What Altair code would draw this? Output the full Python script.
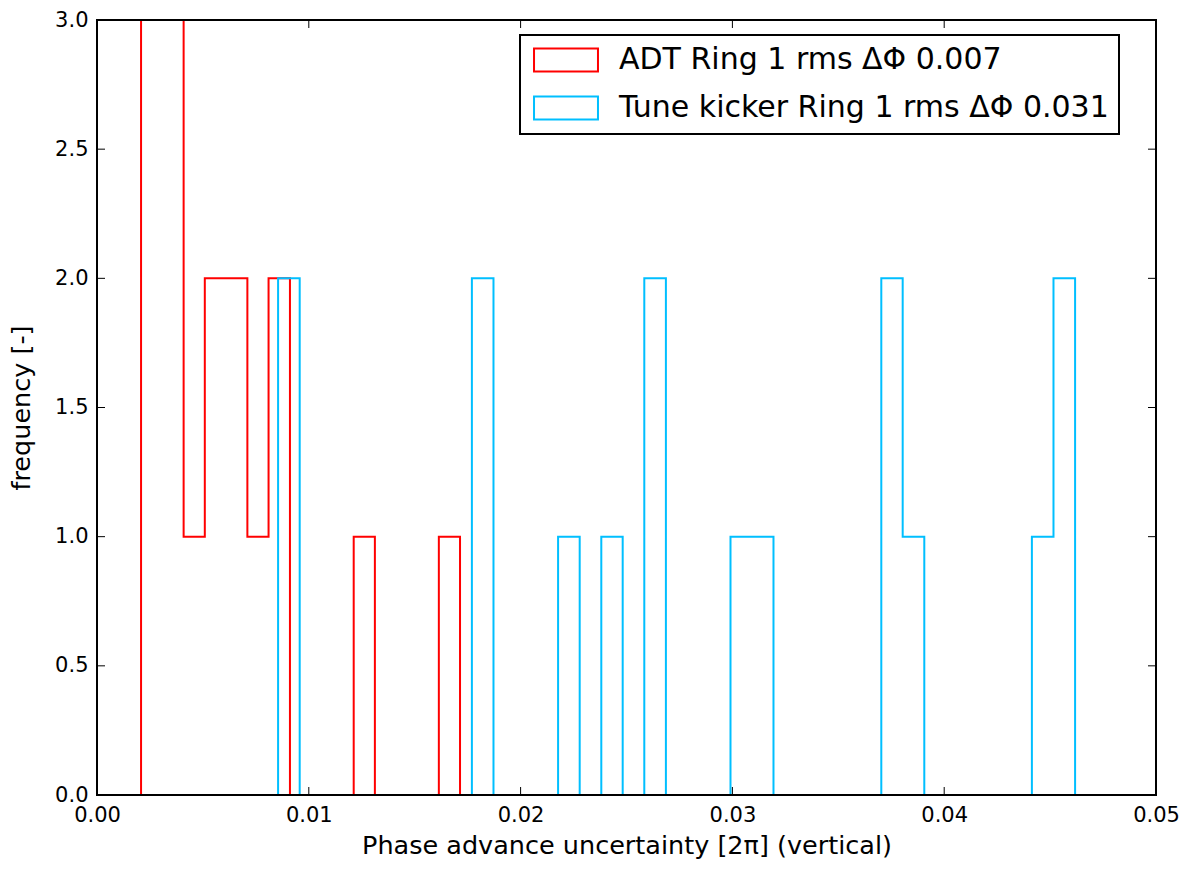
import altair as alt
import pandas as pd

# Bin edges and counts of the two phase-advance-uncertainty histograms
adt_label = "ADT Ring 1 rms ΔΦ 0.007"
adt_edges = [0.00208, 0.00308, 0.00409, 0.00509, 0.00610, 0.00710, 0.00810, 0.00911,
             0.01011, 0.01112, 0.01212, 0.01312, 0.01413, 0.01513, 0.01614, 0.01714]
adt_counts = [3, 3, 1, 2, 2, 1, 2, 0, 0, 0, 1, 0, 0, 0, 1]

kick_label = "Tune kicker Ring 1 rms ΔΦ 0.031"
kick_edges = [0.00855, 0.00957, 0.01058, 0.01160, 0.01262, 0.01364, 0.01465, 0.01567,
              0.01669, 0.01770, 0.01872, 0.01974, 0.02075, 0.02177, 0.02279, 0.02381,
              0.02482, 0.02584, 0.02686, 0.02787, 0.02889, 0.02991, 0.03092, 0.03194,
              0.03296, 0.03398, 0.03499, 0.03601, 0.03703, 0.03804, 0.03906, 0.04008,
              0.04109, 0.04211, 0.04313, 0.04414, 0.04516, 0.04618]
kick_counts = [2, 0, 0, 0, 0, 0, 0, 0, 0, 2, 0, 0, 0, 1, 0, 1, 0, 2, 0, 0, 0,
               1, 1, 0, 0, 0, 0, 0, 2, 1, 0, 0, 0, 0, 0, 1, 2]

x_ticks = [0.0, 0.01, 0.02, 0.03, 0.04, 0.05]
y_ticks = [0.0, 0.5, 1.0, 1.5, 2.0, 2.5, 3.0]

W, H = 1059, 775
FONT = "DejaVu Sans"


def step_outline(label, edges, counts):
    """Outline of a histogram drawn as a 'step' path."""
    pts = [(edges[0], 0)]
    for i, c in enumerate(counts):
        pts.append((edges[i], c))
        pts.append((edges[i + 1], c))
    pts.append((edges[-1], 0))
    return pd.DataFrame({"series": label, "x": [p[0] for p in pts],
                         "y": [p[1] for p in pts], "order": range(len(pts))})


hist = pd.concat([step_outline(adt_label, adt_edges, adt_counts),
                  step_outline(kick_label, kick_edges, kick_counts)])

x_scale = alt.Scale(domain=[0, 0.05], nice=False, zero=False)
y_scale = alt.Scale(domain=[0, 3], nice=False)

# wide rectangle used as legend patch (drawn 64 x 23 px at symbolSize 676)
patch = "M-2.46,-0.885H2.46V0.885H-2.46Z"

lines = alt.Chart(hist).mark_line(strokeWidth=2, clip=True).encode(
    x=alt.X("x:Q", scale=x_scale,
            axis=alt.Axis(values=x_ticks, format=".2f", title="Phase advance uncertainty [2π] (vertical)",
                          ticks=False, domain=False, grid=False, labelFlush=False,
                          labelFontSize=21, titleFontSize=25.5, labelPadding=9, titlePadding=8)),
    y=alt.Y("y:Q", scale=y_scale,
            axis=alt.Axis(values=y_ticks, format=".1f", title="frequency [-]",
                          ticks=False, domain=False, grid=False, labelFlush=False,
                          labelFontSize=21, titleFontSize=25.5, labelPadding=9, titlePadding=20)),
    color=alt.Color("series:N",
                    scale=alt.Scale(domain=[adt_label, kick_label], range=["#ff0000", "#00bfff"]),
                    legend=alt.Legend(title=None, orient="none", legendX=423, legendY=15,
                                      symbolType=patch, symbolSize=676, symbolStrokeWidth=2,
                                      symbolFillColor="white", symbolOffset=21,
                                      labelFontSize=30, labelFont=FONT, labelLimit=0,
                                      labelColor="black", labelOffset=38, rowPadding=16,
                                      padding=10, strokeColor="black", fillColor="white")),
    order="order:Q",
)

xt = pd.DataFrame({"v": x_ticks})
yt = pd.DataFrame({"v": y_ticks})
tick_style = dict(color="black", strokeWidth=1)
x_bottom = alt.Chart(xt).mark_rule(**tick_style).encode(
    x=alt.X("v:Q", scale=x_scale), y=alt.value(H), y2=alt.value(H - 8))
x_top = alt.Chart(xt).mark_rule(**tick_style).encode(
    x=alt.X("v:Q", scale=x_scale), y=alt.value(0), y2=alt.value(8))
y_left = alt.Chart(yt).mark_rule(**tick_style).encode(
    y=alt.Y("v:Q", scale=y_scale), x=alt.value(0), x2=alt.value(8))
y_right = alt.Chart(yt).mark_rule(**tick_style).encode(
    y=alt.Y("v:Q", scale=y_scale), x=alt.value(W - 8), x2=alt.value(W))

frame = alt.Chart(pd.DataFrame({"a": [0]})).mark_rect(
    fillOpacity=0, stroke="black", strokeWidth=2).encode(
    x=alt.value(0), x2=alt.value(W), y=alt.value(0), y2=alt.value(H))

chart = alt.layer(lines, x_bottom, x_top, y_left, y_right, frame).properties(
    width=W, height=H,
    autosize=alt.AutoSizeParams(type="none"),
    padding={"left": 97, "top": 20, "right": 33, "bottom": 76},
    background="white",
).configure_view(stroke=None).configure_axis(
    labelFont=FONT, titleFont=FONT, labelColor="black", titleColor="black",
    titleFontWeight="normal",
).configure_legend(strokeWidth=2)

chart.save("out.html", embed_options={"renderer": "svg", "actions": False})
